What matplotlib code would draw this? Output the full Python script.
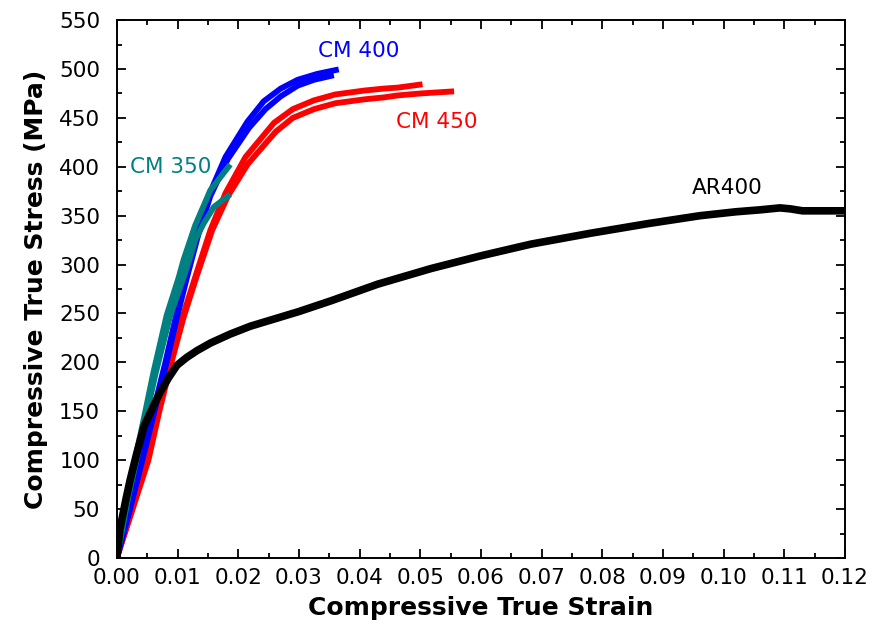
import numpy as np
import matplotlib.pyplot as plt
from matplotlib.ticker import MultipleLocator

plt.rcParams.update({
    "font.family": "DejaVu Sans",
    "font.size": 15.5,
})

# compressive true stress-strain, two specimens per condition
cm350_a_strain = [0.0, 0.0017, 0.0047, 0.0060, 0.0082, 0.0102, 0.0110, 0.0129, 0.0154, 0.0184]
cm350_a_stress = [0, 63, 150, 189, 248, 287, 305, 340, 376, 400]
cm350_b_strain = [0.0, 0.0019, 0.0050, 0.0064, 0.0088, 0.0110, 0.0121, 0.0129, 0.0143, 0.0160, 0.0183]
cm350_b_stress = [0, 63, 150, 189, 248, 287, 308, 325, 342, 359, 370]

cm400_a_strain = [0.0, 0.0019, 0.0041, 0.0060, 0.0080, 0.0097, 0.0114, 0.0132, 0.0151, 0.0179,
                  0.0215, 0.0242, 0.0270, 0.0298, 0.0330, 0.0361]
cm400_a_stress = [0, 46, 100, 150, 200, 246, 288, 330, 370, 410, 446, 467, 480, 489, 495, 499]
cm400_b_strain = [0.0, 0.0020, 0.0042, 0.0062, 0.0082, 0.0099, 0.0116, 0.0134, 0.0154, 0.0183,
                  0.0218, 0.0245, 0.0270, 0.0298, 0.0325, 0.0353]
cm400_b_stress = [0, 46, 100, 150, 200, 246, 288, 330, 370, 408, 440, 459, 472, 483, 489, 493]

cm450_a_strain = [0.0, 0.0025, 0.0050, 0.0068, 0.0088, 0.0108, 0.0129, 0.0154, 0.0179, 0.0212,
                  0.0259, 0.0290, 0.0325, 0.0360, 0.0408, 0.0440, 0.0463, 0.0499]
cm450_a_stress = [0, 50, 100, 150, 200, 246, 287, 335, 373, 410, 445, 459, 468, 474, 478, 480, 481, 484]
cm450_b_strain = [0.0, 0.0026, 0.0052, 0.0070, 0.0090, 0.0110, 0.0131, 0.0157, 0.0183, 0.0216,
                  0.0262, 0.0290, 0.0325, 0.0360, 0.0408, 0.0440, 0.0463, 0.0500, 0.0551]
cm450_b_stress = [0, 50, 100, 150, 200, 246, 287, 335, 370, 403, 436, 450, 459, 465, 469, 471, 473, 475, 477]

ar400_strain = [0.0, 0.0005, 0.0015, 0.0022, 0.0032, 0.0045, 0.0060, 0.0072, 0.0085, 0.0099,
                0.0115, 0.0132, 0.0155, 0.0187, 0.0220, 0.0300, 0.0353, 0.0430, 0.0518, 0.0600,
                0.0683, 0.0780, 0.0876, 0.0961, 0.1020, 0.1060, 0.1093, 0.1110, 0.1130, 0.1200]
ar400_stress = [0, 29, 60, 80, 105, 135, 155, 170, 184, 197,
                205, 212, 220, 229, 237, 252, 263, 280, 296, 309,
                321, 332, 342, 350, 354, 356, 358, 357, 355, 355]

RED = "#FF0000"
BLUE = "#0000FF"
TEAL = "#008080"

fig = plt.figure(figsize=(8.72, 6.35), dpi=100)
ax = fig.add_axes([0.134, 0.1213, 0.835, 0.847])

lw = 4.2
for s, t in [(cm450_a_strain, cm450_a_stress), (cm450_b_strain, cm450_b_stress)]:
    ax.plot(s, t, color=RED, lw=lw, zorder=2, solid_joinstyle="round")
for s, t in [(cm400_a_strain, cm400_a_stress), (cm400_b_strain, cm400_b_stress)]:
    ax.plot(s, t, color=BLUE, lw=lw, zorder=3, solid_joinstyle="round")
for s, t in [(cm350_a_strain, cm350_a_stress), (cm350_b_strain, cm350_b_stress)]:
    ax.plot(s, t, color=TEAL, lw=lw, zorder=4, solid_joinstyle="round")
ax.plot(ar400_strain, ar400_stress, color="black", lw=5.5, zorder=5, solid_joinstyle="round")

ax.text(0.0331, 518, "CM 400", color=BLUE, ha="left", va="center", fontsize=15.5)
ax.text(0.0460, 446, "CM 450", color=RED, ha="left", va="center", fontsize=15.5)
ax.text(0.0022, 400, "CM 350", color=TEAL, ha="left", va="center", fontsize=15.5)
ax.text(0.0948, 378, "AR400", color="black", ha="left", va="center", fontsize=15.5)

ax.set_xlim(0, 0.12)
ax.set_ylim(0, 550)
ax.xaxis.set_major_locator(MultipleLocator(0.01))
ax.xaxis.set_minor_locator(MultipleLocator(0.005))
ax.yaxis.set_major_locator(MultipleLocator(50))
ax.yaxis.set_minor_locator(MultipleLocator(25))
ax.xaxis.set_major_formatter(plt.FuncFormatter(lambda v, p: f"{v:.2f}"))
ax.tick_params(which="both", direction="in", top=True, right=True, width=1.3)
ax.tick_params(which="major", length=6.5)
ax.tick_params(which="minor", length=3.3)
ax.tick_params(axis="x", which="major", pad=7)
ax.tick_params(axis="y", which="major", pad=12)
for sp in ax.spines.values():
    sp.set_linewidth(1.4)

ax.set_xlabel("Compressive True Strain", fontsize=18, fontweight="bold", labelpad=6)
ax.set_ylabel("Compressive True Stress (MPa)", fontsize=18, fontweight="bold", labelpad=8)

fig.savefig("out.png", dpi=100, facecolor="white")
